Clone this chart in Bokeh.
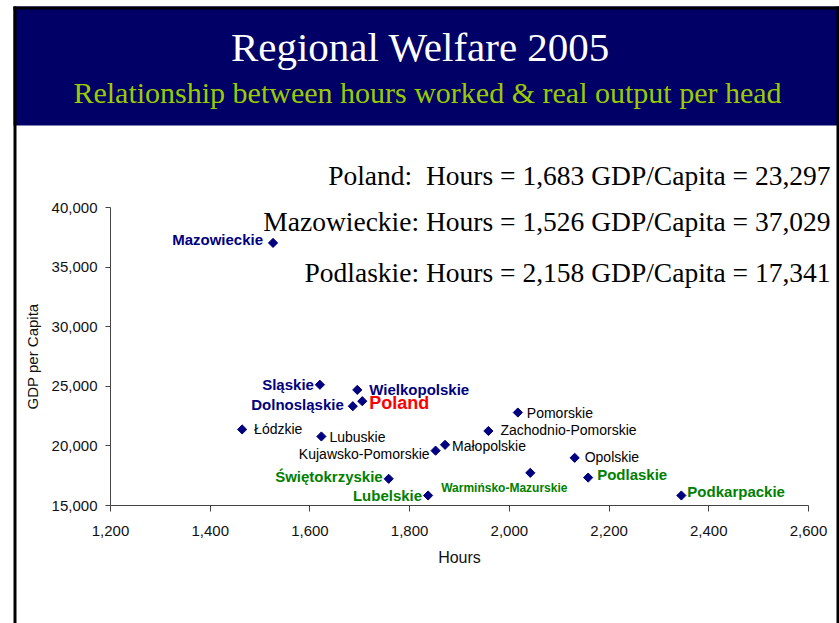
from bokeh.plotting import figure
from bokeh.models import (ColumnDataSource, Label, BoxAnnotation, FixedTicker,
                          NumeralTickFormatter, LinearAxis, Range1d)
from bokeh.core.properties import value
from bokeh.embed import file_html
from bokeh.resources import INLINE

# ---------------- data ----------------
regions = ["Mazowieckie", "Sląskie", "Wielkopolskie", "Poland", "Dolnosląskie",
           "Łódzkie", "Lubuskie", "Kujawsko-Pomorskie", "Małopolskie", "Pomorskie",
           "Zachodnio-Pomorskie", "Opolskie", "Świętokrzyskie", "Lubelskie",
           "Warmińsko-Mazurskie", "Podlaskie", "Podkarpackie"]
hours = [1526, 1620, 1695, 1705, 1686, 1464, 1623, 1852, 1871, 2017,
         1958, 2131, 1758, 1837, 2042, 2158, 2345]
gdp_per_capita = [37029, 25130, 24700, 23750, 23330, 21380, 20790, 19600, 20090, 22800,
                  21250, 19000, 17240, 15840, 17740, 17341, 15840]
groups = ["navy", "navy", "navy", "poland", "navy",
          "plain", "plain", "plain", "plain", "plain",
          "plain", "plain", "green", "green",
          "green_small", "green", "green"]

x_ticks = [1200, 1400, 1600, 1800, 2000, 2200, 2400, 2600]
y_ticks = [15000, 20000, 25000, 30000, 35000, 40000]
x_axis_bounds = (1200, 2600)
y_axis_bounds = (15000, 40000)

title_text = "Regional Welfare 2005"
subtitle_text = "Relationship between hours worked & real output per head"
info_lines = ["Poland:\u00a0 Hours = 1,683 GDP/Capita = 23,297",
              "Mazowieckie: Hours = 1,526 GDP/Capita = 37,029",
              "Podlaskie: Hours = 2,158 GDP/Capita = 17,341"]

# ---------------- layout (pixels of the 839x623 slide) ----------------
W, H = 839, 623
AX_LEFT, AX_RIGHT = 110, 808     # pixel x of 1200 and 2600
AX_TOP, AX_BOTTOM = 207, 505     # pixel y of 40000 and 15000

def px_to_x(X):
    return x_axis_bounds[0] + (X - AX_LEFT) * (x_axis_bounds[1] - x_axis_bounds[0]) / (AX_RIGHT - AX_LEFT)

def px_to_y(Y):
    return y_axis_bounds[0] + (AX_BOTTOM - Y) * (y_axis_bounds[1] - y_axis_bounds[0]) / (AX_BOTTOM - AX_TOP)

# ---------------- label styling ----------------
label_dx = [-10, -6, 12, 7, -9, 12, 8, -6, 7, 9, 12, 10, -6, -6, -26, 9, 6]
label_dy = [-3, 0, 0, 2, -2, 0, 1, 3, 1, 0, -1, -1, -2, 0, 15, -3, -4]
label_align = ["right", "right", "left", "left", "right", "left", "left", "right",
               "left", "left", "left", "left", "right", "right", "center", "left", "left"]
group_style = {
    "navy": ("#000080", "15px", "bold"),
    "poland": ("#FF0000", "18px", "bold"),
    "plain": ("#000000", "14px", "normal"),
    "green": ("#008000", "15px", "bold"),
    "green_small": ("#008000", "12px", "bold"),
}

src = ColumnDataSource(dict(
    x=hours, y=gdp_per_capita, name=regions,
    dx=label_dx, dy=label_dy, align=label_align,
    color=[group_style[g][0] for g in groups],
    size=[group_style[g][1] for g in groups],
    style=[group_style[g][2] for g in groups],
))

SANS = "Liberation Sans"
SERIF = "Liberation Serif"

p = figure(width=W, height=H,
           x_range=Range1d(px_to_x(0), px_to_x(W)),
           y_range=Range1d(px_to_y(H), px_to_y(0)),
           x_axis_location=None, y_axis_location=None,
           output_backend="svg", toolbar_location=None, min_border=0,
           background_fill_color="white", border_fill_color="white")
p.outline_line_color = None
p.grid.visible = False

# ---------------- slide decoration (screen units, frame = whole canvas) ----------------
def box(X0, X1, Y0, Y1, color, level="underlay"):
    return BoxAnnotation(left=X0, right=X1, top=H - Y0, bottom=H - Y1,
                         left_units="screen", right_units="screen",
                         top_units="screen", bottom_units="screen",
                         fill_color=color, fill_alpha=1, line_color=None, level=level)

p.add_layout(box(13, 839, 6, 125, "#000066"))
p.add_layout(box(13, 839, 6, 9, "black"))
p.add_layout(box(13, 16, 6, H, "black"))
p.add_layout(box(836, 839, 6, H, "black"))

# ---------------- axes ----------------
xaxis = LinearAxis(fixed_location=y_axis_bounds[0], bounds=x_axis_bounds,
                   ticker=FixedTicker(ticks=x_ticks),
                   formatter=NumeralTickFormatter(format="0,0"), axis_label="Hours")
yaxis = LinearAxis(fixed_location=x_axis_bounds[0], bounds=y_axis_bounds,
                   ticker=FixedTicker(ticks=y_ticks),
                   formatter=NumeralTickFormatter(format="0,0"), axis_label="GDP per Capita")
for ax in (xaxis, yaxis):
    ax.axis_line_color = "#444444"
    ax.major_tick_line_color = "#444444"
    ax.minor_tick_line_color = None
    ax.major_tick_in = 0
    ax.major_label_text_font = SANS
    ax.major_label_text_font_size = "15px"
    ax.major_label_text_color = "#111111"
    ax.axis_label_text_font = SANS
    ax.axis_label_text_font_style = "normal"
    ax.axis_label_text_color = "#111111"
xaxis.major_tick_out = 6
yaxis.major_tick_out = 5
xaxis.major_label_standoff = 14
yaxis.major_label_standoff = 8
xaxis.axis_label_text_font_size = "16px"
yaxis.axis_label_text_font_size = "15px"
xaxis.axis_label_standoff = 10
yaxis.axis_label_standoff = 8
p.add_layout(xaxis, "below")
p.add_layout(yaxis, "left")

# points
p.scatter("x", "y", source=src, marker="square", size=6.5, angle=0.785398,
          fill_color="#000080", line_color="#000080")

# point labels
p.text("x", "y", text="name", source=src, x_offset="dx", y_offset="dy",
       text_align="align", text_baseline="middle", text_color="color",
       text_font_size="size", text_font_style="style", text_font=value(SANS))

# ---------------- headings ----------------
p.add_layout(Label(x=420, y=H - 46, x_units="screen", y_units="screen",
                   text=title_text, text_align="center", text_baseline="alphabetic",
                   text_font=SERIF, text_font_size="41px", text_color="white"))
p.add_layout(Label(x=427, y=H - 92, x_units="screen", y_units="screen",
                   text=subtitle_text, text_align="center", text_baseline="alphabetic",
                   text_font=SERIF, text_font_size="30px", text_color="#99CC00"))

for line, base in zip(info_lines, [175, 221, 272]):
    p.add_layout(Label(x=830, y=H - base, x_units="screen", y_units="screen",
                       text=line, text_align="right", text_baseline="alphabetic",
                       text_font=SERIF, text_font_size="27.5px", text_color="black"))

open("out.html", "w").write(file_html(p, INLINE))
